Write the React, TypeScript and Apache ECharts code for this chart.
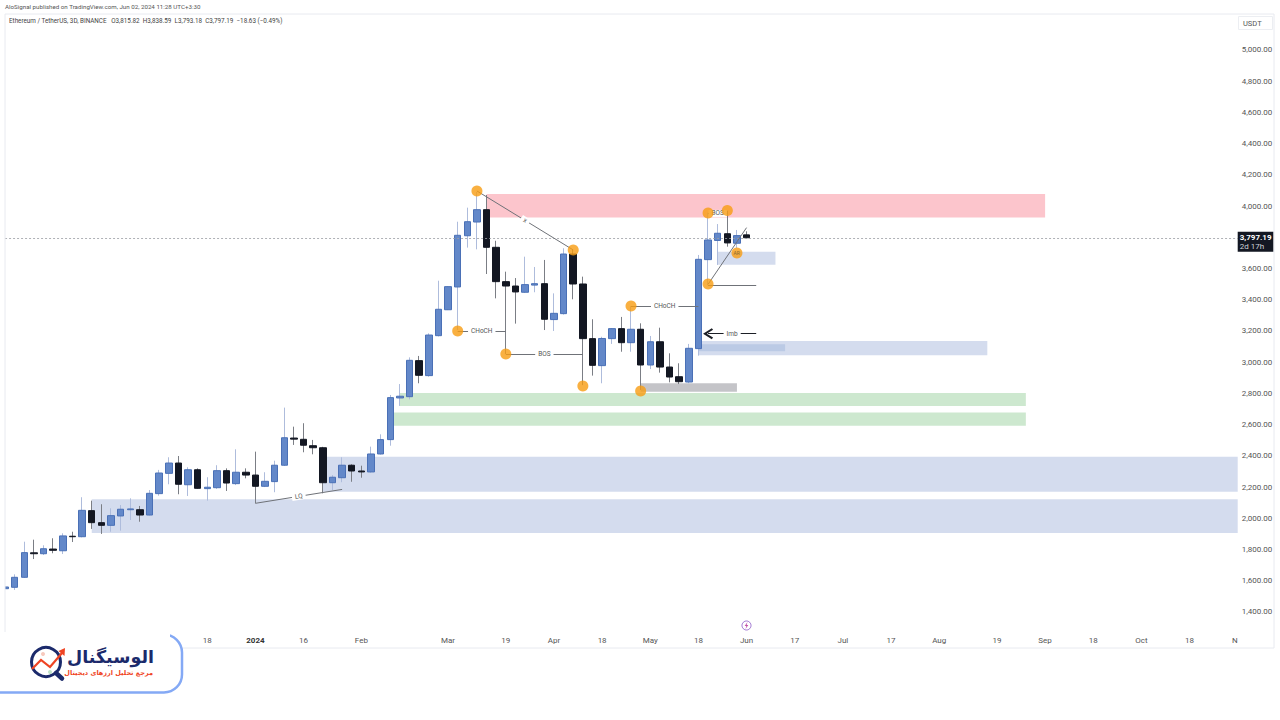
import React, { useEffect, useRef } from "react";
import * as echarts from "echarts";

const startDate = Date.UTC(2023, 9, 15);
const categories = Array.from({ length: 129 }, (_, i) =>
  new Date(startDate + i * 3 * 86400000).toISOString().slice(0, 10)
);

const opens = [1549,1558,1622,1779,1773,1803,1792,1885,1882,2049,1972,1955,2015,2055,2055,2021,2158,2288,2354,2215,2311,2190,2196,2305,2222,2295,2277,2205,2235,2340,2514,2506,2465,2452,2228,2260,2340,2303,2297,2412,2504,2771,2779,3010,2914,3170,3336,3482,3810,3898,3977,3736,3516,3488,3448,3494,3503,3273,3311,3693,3501,3151,2978,3151,3215,3125,3211,2982,3131,2969,2907,2873,3087,3657,3780,3823,3762,3815.82];
const closes = [1560,1622,1780,1773,1805,1795,1887,1882,2051,1972,1955,2017,2058,2060,2021,2160,2290,2354,2218,2311,2192,2199,2305,2226,2295,2277,2205,2237,2340,2516,2507,2468,2452,2228,2263,2340,2303,2297,2412,2504,2773,2782,3012,2916,3174,3339,3484,3813,3900,3977,3736,3516,3488,3450,3497,3503,3275,3313,3693,3501,3151,2980,3152,3215,3125,3211,2982,3131,2969,2905,2875,3089,3659,3783,3826,3764,3811,3797.19];
const highs = [1565,1641,1850,1863,1827,1872,1904,1914,2135,2113,2090,2064,2085,2128,2079,2181,2310,2391,2399,2327,2320,2263,2340,2320,2442,2320,2427,2295,2369,2709,2587,2609,2502,2458,2277,2391,2346,2337,2459,2538,2790,2860,3031,3040,3185,3522,3486,3900,3990,4090,4071,3778,3580,3539,3676,3610,3655,3441,3730,3725,3548,3275,3163,3218,3290,3360,3249,3168,3221,3057,2993,3117,3687,3958,3885,3971,3847,3838.59];
const lows = [1545,1541,1618,1739,1765,1776,1771,1848,1878,1932,1900,1914,1921,1989,1978,2018,2145,2218,2154,2143,2190,2113,2188,2175,2213,2256,2096,2200,2167,2335,2470,2423,2410,2160,2181,2231,2234,2260,2292,2408,2465,2720,2762,2865,2907,3165,3334,3206,3734,3723,3565,3409,3053,3247,3444,3448,3206,3200,3305,3403,2853,2914,2865,3117,3067,3067,2822,2956,2933,2871,2860,2865,3042,3493,3623,3740,3732,3793.18];

const priceTicks = [1400,1600,1800,2000,2200,2400,2600,2800,3000,3200,3400,3600,4000,4200,4400,4600,4800,5000];
const timeTicks: Record<number, string> = {
  21: "18", 26: "2024", 31: "16", 37: "Feb", 46: "Mar", 52: "19", 57: "Apr", 62: "18", 67: "May", 72: "18",
  77: "Jun", 82: "17", 87: "Jul", 92: "17", 97: "Aug", 103: "19", 108: "Sep", 113: "18", 118: "Oct", 123: "18", 128: "N",
};

const lastPrice = 3797.19;

// [first bar, last bar (null = to the pane edge), top price, bottom price, colour]
const zones: [number, number | null, number, number, string][] = [
  [9, null, 2122, 1906, "#d4dcee"],
  [33, null, 2395, 2170, "#d4dcee"],
  [50, 108, 4078, 3927, "#fcc5cc"],
  [41, 106, 2803, 2720, "#cde8cf"],
  [40, 106, 2678, 2593, "#cde8cf"],
  [66, 76, 2865, 2811, "#c4c4c8"],
  [72, 102, 3136, 3044, "#d4dcee"],
  [72, 81, 3115, 3070, "#bbcae5"],
  [74, 80, 3708, 3625, "#d4dcee"],
];

const swingDots: [number, number][] = [
  [49, 4097], [47, 3200], [52, 3053], [59, 3719], [60, 2848], [65, 3360], [66, 2816], [73, 3956], [75, 3972], [73, 3501], [76, 3700],
];

// [bar a, price a, bar b, price b, label]
const structureLines: [number, number, number, number, string][] = [
  [49, 4097, 59, 3719, "x"],
  [47, 3200, 52, 3200, "CHoCH"],
  [52, 3053, 60, 3053, "BOS"],
  [65, 3360, 72, 3360, "CHoCH"],
  [73, 3953, 75, 3953, "BOS"],
  [26, 2096, 35, 2185, "LQ"],
  [73, 3499, 77, 3862, ""],
  [73, 3491, 78, 3491, ""],
];
const imbLine: [number, number, number, number, string] = [73, 3183, 78, 3183, "Imb"];

const FONT = "Roboto, 'Noto Sans', sans-serif";
const AR_FONT = "'DejaVu Sans', 'Noto Sans', sans-serif";
const NAVY = "#1b2a6b";
const RED = "#ef4423";

function App() {
  const ref = useRef<HTMLDivElement>(null);
  useEffect(() => {
    const chart = echarts.init(ref.current!, undefined, { renderer: "svg" });
    const full = opens.map((o, i) => [o, closes[i], lows[i], highs[i]]);
    const bodies = opens.map((o, i) => [o, closes[i], Math.min(o, closes[i]), Math.max(o, closes[i])]);
    const lineItem = (l: [number, number, number, number, string], extra: any = {}) => [
      {
        coord: [l[0], l[1]],
        label: {
          show: !!l[4],
          formatter: l[4],
          position: "insideMiddle",
          fontSize: 6.5,
          fontFamily: FONT,
          color: "#555",
          backgroundColor: "#fff",
          padding: [0, 3],
          distance: 0,
        },
        ...extra,
      },
      { coord: [l[2], l[3]] },
    ];
    chart.setOption({
      animation: false,
      backgroundColor: "#ffffff",
      grid: { left: 5.07, right: 1280 - 1237.7, top: 14, bottom: 88, containLabel: false },
      xAxis: {
        type: "category",
        data: categories,
        boundaryGap: false,
        axisLine: { show: false },
        axisTick: { show: false },
        splitLine: { show: false },
        axisLabel: {
          interval: (i: number) => timeTicks[i] !== undefined,
          formatter: (_: string, i: number) => (timeTicks[i] === "2024" ? "{b|2024}" : timeTicks[i] ?? ""),
          rich: { b: { fontWeight: "bold", fontSize: 8, color: "#333", fontFamily: FONT } },
          fontSize: 8,
          fontFamily: FONT,
          color: "#555",
          margin: 4,
          alignMaxLabel: "right",
          hideOverlap: false,
        },
      },
      yAxis: {
        type: "value",
        position: "right",
        min: 1271.6,
        max: 5230.6,
        scale: true,
        axisLine: { show: false },
        axisTick: { show: false },
        splitLine: { show: false },
        axisLabel: {
          customValues: priceTicks,
          formatter: (v: number) => v.toLocaleString("en-US", { minimumFractionDigits: 2, maximumFractionDigits: 2 }),
          fontSize: 8,
          fontFamily: FONT,
          color: "#555",
          margin: 4,
        },
      },
      series: [
        {
          name: "ETHUSDT wicks",
          type: "candlestick",
          data: full,
          barWidth: 1,
          itemStyle: { color: "#aebcdc", color0: "#7b7e85", borderColor: "#aebcdc", borderColor0: "#7b7e85", borderWidth: 1 },
          markArea: {
            silent: true,
            data: zones.map((z) => [
              { coord: [z[0], z[2]], itemStyle: { color: z[4], opacity: 1 } },
              z[1] === null ? { yAxis: z[3] } : { coord: [z[1], z[3]] },
            ]),
          },
          markLine: {
            silent: true,
            symbol: "none",
            data: [[
              { coord: [0, lastPrice] },
              { coord: [128, lastPrice] },
            ]],
            lineStyle: { color: "#9a9da3", type: [2, 2], width: 0.8 },
            label: {
              show: true,
              position: "end",
              distance: 0,
              formatter: "{a|3,797.19}\n{c|2d 17h}",
              backgroundColor: "#131722",
              padding: [1, 2],
              offset: [0, 4],
              rich: {
                a: { color: "#fff", fontSize: 8, fontFamily: FONT, fontWeight: "bold", lineHeight: 9 },
                c: { color: "#d0d3da", fontSize: 8, fontFamily: FONT, lineHeight: 9 },
              },
            },
          },
        },
        {
          name: "ETHUSDT bodies",
          type: "candlestick",
          data: bodies,
          barWidth: 7,
          itemStyle: { color: "#6388c9", color0: "#131722", borderColor: "#4a70b6", borderColor0: "#131722", borderWidth: 1 },
        },
        {
          name: "Swings",
          type: "scatter",
          z: 6,
          symbol: "circle",
          symbolSize: 11,
          data: swingDots,
          itemStyle: { color: "#f89c12" },
          markLine: {
            silent: true,
            symbol: "none",
            z: 5,
            lineStyle: { color: "#6f7278", width: 1, type: "solid" },
            data: [
              ...structureLines.map((l) => lineItem(l)),
              lineItem(imbLine, {
                symbol: "path://M10 0 L20 14 L17 16 L10 6 L3 16 L0 14 Z",
                symbolSize: [11, 10],
                lineStyle: { color: "#1c1f26", width: 1.2 },
              }),
            ],
          },
        },
      ],
      graphic: [
        // keeps the clipped first bar inside the pane
        { type: "rect", z: 19, silent: true, shape: { x: 0, y: 14, width: 5, height: 618 }, style: { fill: "#fff" } },
        { type: "line", z: 20, silent: true, shape: { x1: 5, y1: 14, x2: 1274, y2: 14 }, style: { stroke: "#e8eaf0", lineWidth: 1 } },
        { type: "line", z: 20, silent: true, shape: { x1: 5, y1: 14, x2: 5, y2: 632 }, style: { stroke: "#e8eaf0", lineWidth: 1 } },
        { type: "line", z: 20, silent: true, shape: { x1: 1274, y1: 14, x2: 1274, y2: 648 }, style: { stroke: "#e8eaf0", lineWidth: 1 } },
        { type: "line", z: 20, silent: true, shape: { x1: 180, y1: 648, x2: 1274, y2: 648 }, style: { stroke: "#e8eaf0", lineWidth: 1 } },
        { type: "text", z: 20, silent: true, x: 5, y: 4, style: { text: "AloSignal published on TradingView.com, Jun 02, 2024 11:28 UTC+3:30", font: `6.2px ${FONT}`, fill: "#555" } },
        { type: "text", z: 20, silent: true, x: 9, y: 18, style: { text: "Ethereum / TetherUS, 3D, BINANCE   O3,815.82  H3,838.59  L3,793.18  C3,797.19  −18.63 (−0.49%)", font: `6.3px ${FONT}`, fill: "#444" } },
        { type: "rect", z: 20, silent: true, shape: { x: 1238.5, y: 16.5, width: 34, height: 13 }, style: { fill: "#fff", stroke: "#eceef2", lineWidth: 1 } },
        { type: "text", z: 21, silent: true, x: 1243, y: 19, style: { text: "USDT", font: `7.5px ${FONT}`, fill: "#555" } },
        // "AR" tag on the last swing
        { type: "text", z: 30, silent: true, x: 733.5, y: 250.5, style: { text: "AR", font: `5px ${FONT}`, fill: "#8a6a30" } },
        // session-break icon
        { type: "circle", z: 20, silent: true, shape: { cx: 746.5, cy: 625.5, r: 4.5 }, style: { fill: "#fff", stroke: "#9b6fd0", lineWidth: 1 } },
        { type: "polygon", z: 21, silent: true, shape: { points: [[747.5, 622], [744.7, 626], [746.4, 626], [745.5, 629], [748.3, 625], [746.6, 625]] }, style: { fill: "#c04fa8" } },
        // logo plate
        { type: "rect", z: 40, silent: true, shape: { x: -20, y: 634.5, width: 202, height: 58, r: 18 }, style: { fill: "#fff", stroke: "#84a9f5", lineWidth: 2.5 } },
        { type: "rect", z: 41, silent: true, shape: { x: 0, y: 632, width: 170, height: 6 }, style: { fill: "#fff" } },
        { type: "circle", z: 42, silent: true, shape: { cx: 46, cy: 662, r: 14.5 }, style: { fill: "#fff", stroke: NAVY, lineWidth: 3 } },
        { type: "line", z: 42, silent: true, shape: { x1: 56, y1: 673, x2: 62, y2: 678.5 }, style: { stroke: NAVY, lineWidth: 4.5, lineCap: "round" } },
        { type: "polyline", z: 43, silent: true, shape: { points: [[32, 669], [41, 660], [50, 667], [62, 653]] }, style: { fill: "none", stroke: RED, lineWidth: 2.2 } },
        { type: "polygon", z: 43, silent: true, shape: { points: [[65, 648], [64.5, 656], [58.5, 651]] }, style: { fill: RED } },
        { type: "circle", z: 43, silent: true, shape: { cx: 43, cy: 654, r: 2 }, style: { fill: "#f6c9bd" } },
        { type: "circle", z: 43, silent: true, shape: { cx: 50, cy: 672, r: 2 }, style: { fill: "#bfe3c8" } },
        { type: "text", z: 42, silent: true, x: 154, y: 657, style: { text: "الوسیگنال", font: `bold 17.5px ${AR_FONT}`, fill: NAVY, align: "right", verticalAlign: "middle" } },
        { type: "text", z: 42, silent: true, x: 153, y: 673, style: { text: "مرجع تحلیل ارزهای دیجیتال", font: `bold 6.5px ${AR_FONT}`, fill: RED, align: "right", verticalAlign: "middle" } },
      ],
    });
    return () => chart.dispose();
  }, []);
  return <div ref={ref} style={{ width: 1280, height: 720, position: "fixed", left: 0, top: 0 }} />;
}

export default App;
